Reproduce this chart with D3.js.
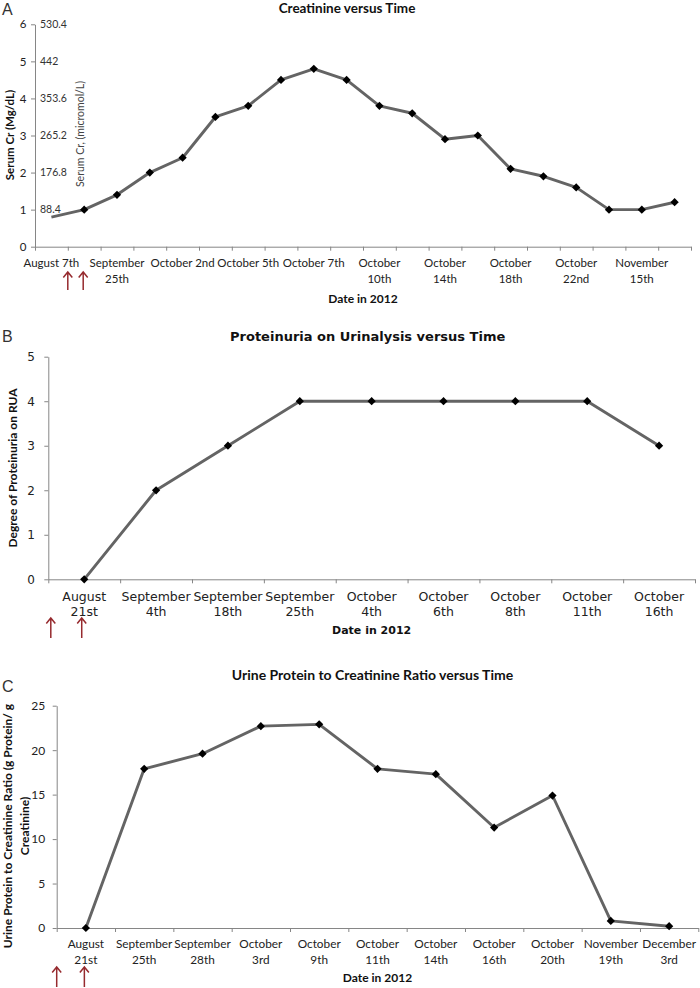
<!DOCTYPE html>
<html><head><meta charset="utf-8">
<script src="https://cdn.jsdelivr.net/npm/d3@7"></script>
<style>html,body{margin:0;padding:0;background:#fff;} svg{display:block}</style>
</head><body>
<svg id="chart" width="700" height="988"></svg>
<script>
// ---------- DATA ----------
// Panel A: Creatinine versus Time (20 visits, every other one labelled)
const crLabels = ["August 7th", "", "September\n25th", "", "October 2nd", "", "October 5th", "",
  "October 7th", "", "October\n10th", "", "October\n14th", "", "October\n18th", "",
  "October\n22nd", "", "November\n15th", ""];
const crValues = [0.8, 1.0, 1.4, 2.0, 2.4, 3.5, 3.8, 4.5, 4.8, 4.5, 3.8, 3.6, 2.9, 3.0, 2.1, 1.9, 1.6, 1.0, 1.0, 1.2];
const crTicks = [0, 1, 2, 3, 4, 5, 6];
const crMicromolTicks = [1, 2, 3, 4, 5, 6];
const crMicromolLabels = ["88.4", "176.8", "265.2", "353.6", "442", "530.4"];

// Panel B: Proteinuria on Urinalysis versus Time
const prLabels = ["August\n21st", "September\n4th", "September\n18th", "September\n25th", "October\n4th",
  "October\n6th", "October\n8th", "October\n11th", "October\n16th"];
const prValues = [0, 2, 3, 4, 4, 4, 4, 4, 3];
const prTicks = [0, 1, 2, 3, 4, 5];

// Panel C: Urine Protein to Creatinine Ratio versus Time
const upLabels = ["August\n21st", "September\n25th", "September\n28th", "October\n3rd", "October\n9th",
  "October\n11th", "October\n14th", "October\n16th", "October\n20th", "November\n19th", "December\n3rd"];
const upValues = [0, 17.9, 19.6, 22.7, 22.9, 17.9, 17.3, 11.3, 14.9, 0.8, 0.2];
const upTicks = [0, 5, 10, 15, 20, 25];

// ---------- DRAWING ----------
const svg = d3.select("#chart");
const AXIS = "#868686", LINE = "#646464", ARROW = "#962a2e";
const CAL = "Lato, 'Open Sans', sans-serif";
const VER = "'DejaVu Sans', Verdana, sans-serif";
const diamond = d3.symbol().type(d3.symbolSquare).size(34);

function drawPanel(c) {
  const g = svg.append("g");
  const n = c.labels.length;
  const x = d3.scaleBand().domain(d3.range(n)).range(c.xRange).paddingInner(0).paddingOuter(0);
  const xc = i => x(i) + x.bandwidth() / 2;
  const xl = d3.scaleLinear().domain([0, n]).range(c.xRange);
  const y = d3.scaleLinear().domain(c.yDomain).range(c.yRange);

  // x axis (ticks at category boundaries)
  const xa = g.append("g").attr("transform", `translate(0,${c.yRange[0]})`)
    .call(d3.axisBottom(xl).tickValues(d3.range(n + 1)).tickSize(4).tickSizeOuter(0).tickFormat(""));
  xa.select(".domain").attr("stroke", AXIS);
  xa.selectAll(".tick line").attr("stroke", AXIS);

  // y axis
  const ya = g.append("g").attr("transform", `translate(${c.xRange[0]},0)`)
    .call(d3.axisLeft(y).tickValues(c.ticks).tickSize(4).tickSizeOuter(0).tickPadding(c.tickPad)
      .tickFormat(d3.format("d")));
  ya.select(".domain").attr("stroke", AXIS);
  ya.selectAll(".tick line").attr("stroke", AXIS);
  ya.selectAll(".tick text").attr("fill", "#222").style("font-family", c.tickFont)
    .style("font-size", c.tickSize + "px");

  // category labels
  c.labels.forEach((lab, i) => {
    if (!lab) return;
    const t = g.append("text").attr("text-anchor", "middle").attr("fill", "#222")
      .style("font-family", c.labFont).style("font-size", c.labSize + "px");
    lab.split("\n").forEach((s, k) => {
      t.append("tspan").attr("x", xc(i)).attr("y", c.labY[k]).text(s);
    });
  });

  // series line + markers
  const line = d3.line().x((d, i) => xc(i)).y(d => y(d));
  g.append("path").datum(c.values).attr("d", line).attr("fill", "none")
    .attr("stroke", LINE).attr("stroke-width", 2.9).attr("stroke-linejoin", "round");
  g.selectAll(".mk").data(c.values.map((v, i) => ({ v, i })).filter(d => d.i >= c.firstMarker))
    .enter().append("path").attr("d", diamond)
    .attr("transform", d => `translate(${xc(d.i)},${y(d.v)}) rotate(45)`).attr("fill", "#000");

  // titles
  const mid = (c.xRange[0] + c.xRange[1]) / 2;
  g.append("text").attr("x", mid + (c.titleDx || 0)).attr("y", c.titleY).attr("text-anchor", "middle")
    .style("font-family", c.titleFont).style("font-size", c.titleSize + "px").style("font-weight", "bold")
    .attr("fill", "#111").text(c.title);
  g.append("text").attr("x", mid).attr("y", c.xTitleY).attr("text-anchor", "middle")
    .style("font-family", c.xTitleFont).style("font-size", c.xTitleSize + "px").style("font-weight", "bold")
    .attr("fill", "#111").text("Date in 2012");
  // y title
  const yt = g.append("text").attr("transform", `translate(${c.yTitleX},${c.yTitleY}) rotate(-90)`)
    .attr("text-anchor", "middle").style("font-family", CAL).style("font-size", c.yTitleSize + "px")
    .style("font-weight", c.yTitleWeight).attr("fill", "#111");
  c.yTitle.forEach((s, k) => yt.append("tspan").attr("x", 0).attr("dy", k === 0 ? 0 : c.yTitleLH).text(s));

  // panel letter
  g.append("text").attr("x", 2).attr("y", c.letterY).style("font-family", "'Liberation Sans', Arial, sans-serif")
    .style("font-size", "16px").attr("fill", "#333").text(c.letter);

  // red arrows
  c.arrows(x, xc).forEach(ax => {
    g.append("path").attr("d",
      `M${ax},${c.arrowY[1]}V${c.arrowY[0]}M${ax - 4.5},${c.arrowY[0] + 5.5}L${ax},${c.arrowY[0]}L${ax + 4.5},${c.arrowY[0] + 5.5}`)
      .attr("fill", "none").attr("stroke", ARROW).attr("stroke-width", 1.5);
  });
  return { g, x, y, xc };
}

// Panel A
const A = drawPanel({
  letter: "A", letterY: 15,
  labels: crLabels, values: crValues, ticks: crTicks, firstMarker: 1,
  xRange: [35, 691], yDomain: [0, 6], yRange: [246.7, 24.3],
  tickFont: CAL, tickSize: 11.5, tickPad: 4.5,
  labFont: CAL, labSize: 11.5, labY: [267, 283],
  title: "Creatinine versus Time", titleY: 12.5, titleFont: CAL, titleSize: 13.5, titleDx: -16,
  xTitleY: 303, xTitleFont: CAL, xTitleSize: 12,
  yTitle: ["Serum Cr (Mg/dL)"], yTitleX: 14, yTitleY: 135, yTitleSize: 11.5, yTitleWeight: "bold", yTitleLH: 0,
  arrowY: [272, 290],
  arrows: (x, xc) => [x(1), xc(1) - 1]
});
// secondary (micromol/L) labels inside plot
A.g.selectAll(".mm").data(crMicromolTicks).enter().append("text")
  .attr("x", 40).attr("y", d => A.y(d) + 3.5).style("font-family", CAL).style("font-size", "10.5px")
  .attr("fill", "#333").text((d, i) => crMicromolLabels[i]);
A.g.append("text").attr("transform", `translate(84,134) rotate(-90)`).attr("text-anchor", "middle")
  .style("font-family", CAL).style("font-size", "10.5px").attr("fill", "#444").text("Serum Cr, (micromol/L)");

// Panel B
drawPanel({
  letter: "B", letterY: 342,
  labels: prLabels, values: prValues, ticks: prTicks, firstMarker: 0,
  xRange: [48.3, 695], yDomain: [0, 5], yRange: [579.3, 356.7],
  tickFont: VER, tickSize: 12, tickPad: 9.5,
  labFont: VER, labSize: 12.5, labY: [600.5, 615.5],
  title: "Proteinuria on Urinalysis versus Time", titleY: 340.5, titleFont: VER, titleSize: 13, titleDx: -4,
  xTitleY: 634, xTitleFont: VER, xTitleSize: 11,
  yTitle: ["Degree of Proteinuria on RUA"], yTitleX: 17, yTitleY: 468, yTitleSize: 12, yTitleWeight: "bold", yTitleLH: 0,
  arrowY: [618, 638],
  arrows: (x, xc) => [x.range()[0] + 2.5, xc(0) - 2.5]
});

// Panel C
drawPanel({
  letter: "C", letterY: 692,
  labels: upLabels, values: upValues, ticks: upTicks, firstMarker: 0,
  xRange: [56.7, 698.3], yDomain: [0, 25], yRange: [928, 705.7],
  tickFont: CAL, tickSize: 12, tickPad: 7.5,
  labFont: CAL, labSize: 11.8, labY: [948, 964],
  title: "Urine Protein to Creatinine Ratio versus Time", titleY: 679.5, titleFont: CAL, titleSize: 14, titleDx: -5,
  xTitleY: 982, xTitleFont: CAL, xTitleSize: 12,
  yTitle: ["Urine Protein to Creatinine Ratio (g Protein/ g", "Creatinine)"], yTitleX: 12, yTitleY: 826,
  yTitleSize: 12, yTitleWeight: "bold", yTitleLH: 17,
  arrowY: [967, 987],
  arrows: (x, xc) => [x.range()[0], xc(0) - 1.5]
});
</script>
</body></html>
